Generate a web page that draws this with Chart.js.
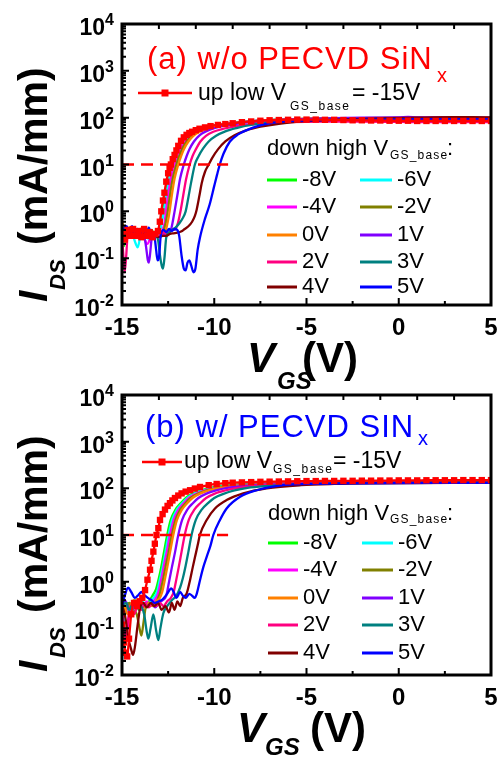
<!DOCTYPE html>
<html>
<head>
<meta charset="utf-8">
<script src="https://cdn.jsdelivr.net/npm/chart.js@4/dist/chart.umd.min.js"></script>
<style>
body{margin:0;background:#fff;}
#wrap{position:relative;width:498px;height:758px;overflow:hidden;background:#fff;}
#ca{position:absolute;left:0;top:0;}
#cb{position:absolute;left:0;top:380px;}
</style>
</head>
<body>
<div id="wrap">
<canvas id="ca" width="498" height="400"></canvas>
<canvas id="cb" width="498" height="378"></canvas>
</div>
<script>
// legend labels / colours of the "down high" sweeps
const biasLabels = ['-8V','-6V','-4V','-2V','0V','1V','2V','3V','4V','5V'];
const biasColors = ['#00ff00','#00ffff','#ff00ff','#808000','#ff8000','#8000ff','#ff0080','#008080','#800000','#0000ff'];

// axis ticks
const xTicksBottom = [-15,-12.5,-10,-7.5,-5,-2.5,0,2.5,5];
const xTicksTop = [-15,-13,-11,-9,-7,-5,-3,-1,1,3,5];
const yDecades = [-2,-1,0,1,2,3,4];

// dashed reference line at 10 mA/mm
const refLevel = 10;
const refSpan = [-15, -9.25];

// ---- (a) w/o PECVD SiNx : [VGS, IDS] ----
const a_up = [[-15,0.35],[-14.85,0.25],[-14.7,0.4],[-14.55,0.3],[-14.4,0.42],[-14.25,0.3],[-14.1,0.38],[-13.95,0.28],[-13.8,0.42],[-13.65,0.3],[-13.5,0.36],[-13.35,0.28],[-13.2,0.33],[-13.05,0.38],[-12.95,0.6],[-12.87,1.0],[-12.78,1.7],[-12.7,2.5],[-12.6,4.3],[-12.5,6.5],[-12.42,8.5],[-12.35,10],[-12.25,13],[-12.15,16],[-12.05,20],[-11.95,25],[-11.8,32],[-11.65,38],[-11.5,43],[-11.35,47],[-11.2,50],[-11.0,54],[-10.8,58],[-10.5,62],[-10.2,66],[-9.8,70],[-9.4,73],[-9.0,76],[-8.5,80],[-8.0,83],[-7.5,86],[-7.0,88],[-6.5,89],[-6.0,90],[-5.5,91],[-5.0,91],[-4.5,91],[-4.0,90],[-3.5,90],[-3.0,89],[-2.5,88],[-2.0,88],[-1.5,87],[-1.0,87],[-0.5,86],[0,86],[0.5,86],[1,85],[1.5,85],[2,85],[2.5,85],[3,85],[3.5,85],[4,85],[4.5,85],[5,85]];
const a_m8 = [[-15,0.25],[-14.9,0.18],[-14.75,0.35],[-14.6,0.45],[-14.45,0.3],[-14.3,0.4],[-14.15,0.3],[-14.0,0.42],[-13.85,0.3],[-13.7,0.4],[-13.55,0.32],[-13.4,0.4],[-13.25,0.33],[-13.1,0.38],[-12.95,0.42],[-12.85,0.65],[-12.78,1.0],[-12.65,2.3],[-12.5,5],[-12.3,10],[-12.15,15],[-12.0,21],[-11.8,30],[-11.5,42],[-11.2,50],[-10.8,58],[-10.2,66],[-9.5,73],[-8.5,80],[-7.5,86],[-6,92],[-4,96],[-2,98],[0,98],[2,97],[4,97],[5,97]];
const a_m6 = [[-15,0.3],[-14.85,0.42],[-14.7,0.3],[-14.55,0.45],[-14.4,0.3],[-14.25,0.2],[-14.15,0.17],[-14.0,0.3],[-13.85,0.4],[-13.7,0.35],[-13.55,0.25],[-13.4,0.35],[-13.25,0.3],[-13.1,0.36],[-12.95,0.38],[-12.85,0.55],[-12.73,1.0],[-12.6,2.3],[-12.45,5],[-12.25,10],[-12.1,15],[-11.95,21],[-11.75,30],[-11.45,42],[-11.1,51],[-10.7,59],[-10.1,67],[-9.4,74],[-8.4,81],[-7.4,87],[-6,92],[-4,96],[-2,98],[0,99],[2,99],[4,98],[5,98]];
const a_m4 = [[-15,0.35],[-14.85,0.3],[-14.7,0.45],[-14.55,0.35],[-14.4,0.3],[-14.25,0.42],[-14.1,0.3],[-13.95,0.38],[-13.8,0.28],[-13.65,0.2],[-13.55,0.22],[-13.4,0.35],[-13.25,0.3],[-13.1,0.36],[-12.95,0.3],[-12.8,0.4],[-12.68,0.6],[-12.62,1.0],[-12.5,2.2],[-12.35,5],[-12.15,10],[-12.0,15],[-11.85,21],[-11.6,31],[-11.3,42],[-10.95,51],[-10.5,60],[-9.9,68],[-9.2,75],[-8.2,82],[-7.2,88],[-6,92],[-4,96],[-2,98],[0,99],[2,99],[4,98],[5,98]];
const a_m2 = [[-15,0.4],[-14.85,0.35],[-14.7,0.3],[-14.55,0.4],[-14.4,0.35],[-14.25,0.28],[-14.1,0.38],[-13.95,0.3],[-13.8,0.36],[-13.65,0.3],[-13.5,0.38],[-13.35,0.3],[-13.2,0.35],[-13.05,0.3],[-12.9,0.33],[-12.75,0.38],[-12.62,0.6],[-12.52,1.0],[-12.4,2.2],[-12.25,5],[-12.05,10],[-11.9,15],[-11.75,21],[-11.5,31],[-11.2,42],[-10.85,51],[-10.4,60],[-9.8,68],[-9.1,75],[-8.1,82],[-7.1,88],[-6,92],[-4,96],[-2,98],[0,99],[2,100],[4,100],[5,99]];
const a_0 = [[-15,0.6],[-14.9,0.45],[-14.75,0.35],[-14.6,0.45],[-14.45,0.3],[-14.3,0.38],[-14.15,0.3],[-14.0,0.42],[-13.85,0.3],[-13.7,0.4],[-13.55,0.34],[-13.4,0.3],[-13.25,0.36],[-13.1,0.3],[-12.95,0.35],[-12.8,0.3],[-12.65,0.36],[-12.52,0.6],[-12.42,1.0],[-12.3,2.2],[-12.15,5],[-11.95,10],[-11.8,15],[-11.65,21],[-11.4,31],[-11.1,42],[-10.75,51],[-10.3,60],[-9.7,68],[-9,75],[-8,82],[-7,88],[-6,92],[-4,96],[-2,98],[0,99],[2,100],[4,100],[5,100]];
const a_1 = [[-15,0.4],[-14.85,0.3],[-14.7,0.45],[-14.55,0.35],[-14.4,0.3],[-14.25,0.4],[-14.1,0.3],[-13.95,0.38],[-13.8,0.3],[-13.7,0.18],[-13.6,0.09],[-13.55,0.08],[-13.48,0.12],[-13.4,0.25],[-13.3,0.35],[-13.15,0.3],[-13.0,0.36],[-12.85,0.3],[-12.7,0.34],[-12.5,0.33],[-12.35,0.4],[-12.25,0.6],[-12.15,1.0],[-12.0,2.2],[-11.85,5],[-11.65,10],[-11.5,15],[-11.35,21],[-11.1,31],[-10.8,42],[-10.45,51],[-10.0,60],[-9.4,68],[-8.7,75],[-7.7,82],[-6.7,88],[-5.5,93],[-4,97],[-2,100],[0,101],[0.5,104],[1,101],[2,101],[4,100],[5,100]];
const a_2 = [[-15,0.3],[-14.93,0.12],[-14.86,0.05],[-14.78,0.1],[-14.7,0.3],[-14.55,0.45],[-14.4,0.32],[-14.25,0.4],[-14.1,0.3],[-13.95,0.38],[-13.8,0.3],[-13.65,0.4],[-13.5,0.3],[-13.35,0.35],[-13.2,0.3],[-13.05,0.37],[-12.9,0.3],[-12.75,0.36],[-12.6,0.33],[-12.45,0.36],[-12.3,0.4],[-12.1,0.42],[-11.95,0.6],[-11.83,1.0],[-11.68,2.2],[-11.53,4.8],[-11.33,10],[-11.18,15],[-11.0,21],[-10.75,31],[-10.45,41],[-10.05,50],[-9.5,58],[-8.8,66],[-8,72],[-7,77],[-6,80],[-4,82],[-2,82],[0,81],[2,80],[4,80],[5,80]];
const a_3 = [[-15,0.35],[-14.85,0.4],[-14.7,0.3],[-14.55,0.4],[-14.4,0.32],[-14.25,0.38],[-14.1,0.3],[-13.95,0.36],[-13.8,0.3],[-13.65,0.35],[-13.5,0.3],[-13.35,0.33],[-13.2,0.3],[-13.05,0.25],[-12.95,0.12],[-12.85,0.07],[-12.78,0.06],[-12.7,0.1],[-12.6,0.28],[-12.45,0.35],[-12.3,0.4],[-12.1,0.45],[-11.9,0.55],[-11.72,0.7],[-11.55,1.0],[-11.4,2.0],[-11.25,4.2],[-11.05,10],[-10.85,15],[-10.6,22],[-10.3,31],[-9.9,41],[-9.4,51],[-8.8,60],[-8,70],[-7,78],[-6,84],[-4,90],[-2,93],[0,94],[2,94],[4,93],[5,93]];
const a_4 = [[-15,0.4],[-14.85,0.3],[-14.7,0.36],[-14.55,0.42],[-14.4,0.3],[-14.25,0.36],[-14.1,0.3],[-13.95,0.38],[-13.8,0.3],[-13.65,0.4],[-13.5,0.3],[-13.35,0.26],[-13.2,0.3],[-13.0,0.28],[-12.8,0.3],[-12.6,0.3],[-12.4,0.33],[-12.2,0.34],[-12.0,0.35],[-11.8,0.37],[-11.6,0.42],[-11.4,0.48],[-11.2,0.6],[-11.05,0.8],[-10.95,1.1],[-10.8,2.2],[-10.68,4],[-10.5,7],[-10.3,10],[-10.1,14],[-9.8,21],[-9.4,31],[-8.9,42],[-8.3,53],[-7.5,64],[-6.5,74],[-5,84],[-3,92],[-1,97],[1,100],[3,102],[4,102],[5,101]];
const a_5 = [[-15,0.28],[-14.9,0.42],[-14.75,0.48],[-14.6,0.32],[-14.45,0.48],[-14.3,0.28],[-14.15,0.42],[-14.0,0.3],[-13.85,0.45],[-13.7,0.3],[-13.55,0.45],[-13.4,0.32],[-13.25,0.3],[-13.15,0.15],[-13.07,0.09],[-13.0,0.1],[-12.9,0.3],[-12.75,0.4],[-12.6,0.36],[-12.45,0.42],[-12.3,0.38],[-12.15,0.42],[-12.0,0.4],[-11.9,0.3],[-11.78,0.12],[-11.65,0.06],[-11.55,0.055],[-11.45,0.08],[-11.35,0.09],[-11.25,0.07],[-11.12,0.05],[-11.02,0.06],[-10.9,0.15],[-10.77,0.28],[-10.5,0.7],[-10.25,1.4],[-10.0,3.5],[-9.85,6],[-9.7,10],[-9.5,17],[-9.15,31],[-8.7,44],[-8.2,55],[-7.6,67],[-7.0,76],[-6,84],[-5,87],[-3,90],[-1,92],[1,93],[3,93],[5,93]];

// ---- (b) w/ PECVD SINx ----
const b_up = [[-15,0.12],[-14.9,0.05],[-14.8,0.03],[-14.72,0.025],[-14.62,0.06],[-14.5,0.2],[-14.35,0.35],[-14.2,0.3],[-14.05,0.38],[-13.9,0.45],[-13.75,0.66],[-13.62,1.1],[-13.48,1.8],[-13.4,2.8],[-13.3,4.4],[-13.22,6.5],[-13.13,10],[-13.03,14],[-12.94,21],[-12.8,28],[-12.67,35],[-12.53,42],[-12.4,48],[-12.27,55],[-12.13,62],[-11.95,70],[-11.77,78],[-11.55,85],[-11.31,91],[-11.05,99],[-10.77,107],[-10.3,117],[-9.87,124],[-9.4,129],[-9,132],[-8.5,134],[-8,136],[-7.5,138],[-7,139],[-6.5,140],[-6,141],[-5.5,142],[-5,143],[-4.5,143],[-4,144],[-3.5,144],[-3,145],[-2.5,145],[-2,146],[-1.5,146],[-1,147],[-0.5,147],[0,148],[0.5,148],[1,148],[1.5,149],[2,149],[2.5,149],[3,149],[3.5,150],[4,150],[4.5,150],[5,150]];
const b_m8 = [[-15,0.3],[-14.85,0.2],[-14.7,0.35],[-14.5,0.3],[-14.3,0.4],[-14.1,0.25],[-13.9,0.35],[-13.7,0.3],[-13.5,0.4],[-13.35,0.5],[-13.15,0.7],[-13.0,1.2],[-12.88,2],[-12.72,4.4],[-12.55,10],[-12.36,21],[-12.1,35],[-11.82,48],[-11.55,62],[-11.2,76],[-10.7,90],[-10.2,102],[-9.3,115],[-8.3,123],[-7,128],[-5,132],[-3,134],[-1,135],[1,135],[3,135],[5,135]];
const b_m6 = [[-15,0.022],[-14.95,0.06],[-14.85,0.2],[-14.7,0.3],[-14.5,0.2],[-14.3,0.35],[-14.1,0.3],[-13.9,0.38],[-13.7,0.28],[-13.5,0.35],[-13.3,0.45],[-13.1,0.6],[-12.95,1.1],[-12.8,2],[-12.64,4.4],[-12.47,10],[-12.28,21],[-12.02,35],[-11.74,48],[-11.47,62],[-11.1,76],[-10.6,90],[-10.0,102],[-9.1,114],[-8,122],[-6.5,128],[-5,131],[-3,133],[-1,134],[1,135],[3,135],[5,135]];
const b_m4 = [[-15,0.2],[-14.9,0.12],[-14.75,0.08],[-14.6,0.2],[-14.45,0.35],[-14.25,0.25],[-14.05,0.35],[-13.85,0.3],[-13.65,0.38],[-13.45,0.3],[-13.25,0.4],[-13.05,0.55],[-12.9,1.0],[-12.75,2],[-12.57,4.4],[-12.4,10],[-12.2,21],[-11.94,35],[-11.66,48],[-11.38,62],[-11.0,76],[-10.5,90],[-9.9,102],[-9.0,113],[-7.8,121],[-6.3,127],[-4.5,131],[-2,134],[0,135],[2,136],[5,136]];
const b_m2 = [[-15,0.35],[-14.8,0.25],[-14.6,0.35],[-14.4,0.25],[-14.2,0.2],[-14.05,0.1],[-13.95,0.07],[-13.85,0.12],[-13.7,0.3],[-13.5,0.35],[-13.3,0.3],[-13.1,0.4],[-12.95,0.55],[-12.8,1.0],[-12.65,2],[-12.47,4.4],[-12.3,10],[-12.1,21],[-11.84,35],[-11.56,48],[-11.28,62],[-10.9,76],[-10.4,90],[-9.8,102],[-8.9,113],[-7.7,121],[-6.2,127],[-4.4,131],[-2,134],[0,136],[2,137],[5,137]];
const b_0 = [[-15,0.4],[-14.85,0.3],[-14.7,0.2],[-14.55,0.3],[-14.35,0.4],[-14.15,0.3],[-13.95,0.35],[-13.75,0.28],[-13.55,0.35],[-13.35,0.3],[-13.15,0.38],[-12.95,0.45],[-12.82,0.6],[-12.7,1.0],[-12.55,2],[-12.39,4.4],[-12.22,10],[-12.02,21],[-11.75,35],[-11.47,48],[-11.18,62],[-10.8,76],[-10.3,90],[-9.7,102],[-8.8,113],[-7.6,121],[-6.1,127],[-4.3,131],[-2,134],[0,136],[2,137],[5,137]];
const b_1 = [[-15,0.3],[-14.85,0.4],[-14.7,0.3],[-14.55,0.18],[-14.4,0.3],[-14.2,0.38],[-14.0,0.28],[-13.8,0.35],[-13.6,0.3],[-13.4,0.35],[-13.2,0.28],[-13.0,0.35],[-12.8,0.4],[-12.6,0.5],[-12.45,1.0],[-12.3,2],[-12.12,4.4],[-11.95,10],[-11.74,21],[-11.46,35],[-11.16,48],[-10.86,62],[-10.45,76],[-9.9,90],[-9.3,102],[-8.4,113],[-7.2,121],[-5.8,127],[-4,131],[-2,133],[0,135],[2,136],[5,136]];
const b_2 = [[-15,0.25],[-14.9,0.1],[-14.8,0.06],[-14.7,0.12],[-14.55,0.3],[-14.35,0.2],[-14.15,0.3],[-13.95,0.25],[-13.75,0.35],[-13.55,0.28],[-13.35,0.35],[-13.15,0.3],[-12.95,0.35],[-12.75,0.3],[-12.55,0.38],[-12.35,0.45],[-12.2,0.6],[-12.08,1.0],[-11.93,2],[-11.77,4.4],[-11.6,10],[-11.38,21],[-11.08,35],[-10.76,48],[-10.44,62],[-10.0,76],[-9.4,90],[-8.8,101],[-7.9,112],[-6.7,120],[-5.3,126],[-3.5,130],[-1,133],[1,134],[3,135],[5,135]];
const b_3 = [[-15,0.3],[-14.8,0.35],[-14.6,0.25],[-14.4,0.35],[-14.2,0.28],[-14.0,0.3],[-13.8,0.2],[-13.65,0.08],[-13.57,0.06],[-13.45,0.1],[-13.3,0.2],[-13.15,0.09],[-13.03,0.056],[-12.92,0.1],[-12.76,0.21],[-12.55,0.3],[-12.3,0.4],[-12.05,0.5],[-11.85,0.75],[-11.7,1.2],[-11.55,2.2],[-11.4,4.4],[-11.23,10],[-11.0,21],[-10.68,35],[-10.34,48],[-10.0,62],[-9.5,76],[-8.9,90],[-8.2,102],[-7.2,112],[-6,120],[-4.5,126],[-2.5,130],[0,133],[2,134],[5,134]];
const b_4 = [[-15,0.3],[-14.85,0.2],[-14.65,0.06],[-14.5,0.035],[-14.4,0.027],[-14.3,0.04],[-14.15,0.12],[-14.0,0.3],[-13.85,0.35],[-13.65,0.28],[-13.45,0.35],[-13.25,0.3],[-13.05,0.35],[-12.85,0.25],[-12.65,0.3],[-12.45,0.22],[-12.3,0.35],[-12.15,0.25],[-12.0,0.38],[-11.85,0.3],[-11.7,0.45],[-11.5,0.55],[-11.31,1.09],[-11.17,2],[-11.04,3.4],[-10.9,6],[-10.78,10],[-10.41,21],[-9.96,37],[-9.33,56],[-8.43,78],[-7.16,100],[-5.3,117],[-3.5,124],[-1,128],[1,130],[3,131],[5,131]];
const b_5 = [[-15,0.29],[-14.85,0.5],[-14.67,0.74],[-14.5,0.6],[-14.3,0.45],[-14.15,0.5],[-13.95,0.6],[-13.75,0.5],[-13.6,0.45],[-13.4,0.4],[-13.23,0.35],[-13.0,0.38],[-12.8,0.42],[-12.55,0.55],[-12.33,0.72],[-12.2,0.6],[-12.05,0.45],[-11.85,0.6],[-11.7,0.5],[-11.55,0.45],[-11.35,0.55],[-11.2,0.5],[-11.06,0.45],[-10.95,0.55],[-10.77,1.09],[-10.6,2],[-10.41,3.4],[-10.2,6],[-10.05,10],[-9.69,21],[-9.33,37],[-8.6,66],[-7.7,91],[-6.27,117],[-4.5,125],[-2,128],[0,130],[2,131],[5,131]];

const aDown = [a_m8, a_m6, a_m4, a_m2, a_0, a_1, a_2, a_3, a_4, a_5];
const bDown = [b_m8, b_m6, b_m4, b_m2, b_0, b_1, b_2, b_3, b_4, b_5];

const FONT = "'Liberation Sans', Arial, sans-serif";
Chart.defaults.font.family = FONT;
Chart.defaults.color = '#000';

function buildSets(up, down) {
	const sets = [];
	// first dataset is drawn last (on top)
	sets.push({ data: [[refSpan[0], refLevel], [refSpan[1], refLevel]], borderColor: '#ff0000', borderWidth: 2.5, borderDash: [12, 7], pointRadius: 0 });
	sets.push({ data: up, borderColor: '#ff0000', borderWidth: 2.3, pointStyle: 'rect', pointRadius: 4.5, pointBackgroundColor: '#ff0000', pointBorderWidth: 0, cubicInterpolationMode: 'monotone' });
	for (let i = down.length - 1; i >= 0; i--) {
		sets.push({ data: down[i], borderColor: biasColors[i], borderWidth: 2.3, pointRadius: 0, cubicInterpolationMode: 'monotone' });
	}
	return sets;
}

// text with sub/superscripts: parts = [text, font, x, y, letterSpacing]
function drawParts(ctx, parts) {
	for (const p of parts) {
		ctx.font = p[1];
		ctx.letterSpacing = p[4] || '0px';
		ctx.fillText(p[0], p[2], p[3]);
	}
	ctx.letterSpacing = '0px';
}

function deco(c) {
	return {
		id: 'deco',
		afterDraw(chart) {
			const ctx = chart.ctx, a = chart.chartArea;
			const xs = chart.scales.x, ys = chart.scales.y;
			ctx.save();
			ctx.fillStyle = '#000';
			ctx.strokeStyle = '#000';

			// frame
			ctx.lineWidth = 3;
			ctx.strokeRect(a.left, a.top, a.right - a.left, a.bottom - a.top);

			// inward ticks
			ctx.lineWidth = 2;
			ctx.beginPath();
			for (const v of xTicksBottom) {
				const px = xs.getPixelForValue(v);
				const len = v % 5 === 0 ? 7 : 4;
				ctx.moveTo(px, a.bottom); ctx.lineTo(px, a.bottom - len);
			}
			for (const v of xTicksTop) {
				const px = xs.getPixelForValue(v);
				ctx.moveTo(px, a.top); ctx.lineTo(px, a.top + 5);
			}
			for (const d of yDecades) {
				for (let k = 1; k <= 9; k++) {
					if (d === 4 && k > 1) break;
					const py = ys.getPixelForValue(k * Math.pow(10, d));
					const len = k === 1 ? 7 : 4;
					ctx.moveTo(a.left, py); ctx.lineTo(a.left + len, py);
				}
			}
			ctx.stroke();

			// y tick labels 10^n
			ctx.textAlign = 'left';
			ctx.textBaseline = 'alphabetic';
			for (const d of yDecades) {
				const py = ys.getPixelForValue(Math.pow(10, d));
				ctx.font = 'bold 16px ' + FONT;
				const ew = ctx.measureText(String(d)).width;
				const right = 114;
				ctx.fillText(String(d), right - ew, py + 1);
				ctx.font = 'bold 23px ' + FONT;
				const bw = ctx.measureText('10').width;
				ctx.fillText('10', right - ew - bw, py + 11);
			}

			// y title (rotated)
			ctx.save();
			ctx.translate(c.yt.x, c.yt.y);
			ctx.rotate(-Math.PI / 2);
			drawParts(ctx, [
				['I', 'italic bold 41px ' + FONT, 0, 0],
				['DS', 'italic bold 22px ' + FONT, c.yt.sub, 18],
				['(mA/mm)', 'bold 41px ' + FONT, c.yt.main, 0]
			]);
			ctx.restore();

			// x title
			drawParts(ctx, [
				['V', 'italic bold 42px ' + FONT, c.xt.vx, c.xt.y],
				['GS', 'italic bold 24px ' + FONT, c.xt.gsx, c.xt.gsy],
				['(V)', 'bold 42px ' + FONT, c.xt.px, c.xt.y]
			]);

			// panel title
			ctx.fillStyle = c.title.color;
			drawParts(ctx, [
				[c.title.text, '31px ' + FONT, c.title.x, c.title.y, '1px'],
				['x', '20px ' + FONT, c.title.subX, c.title.subY]
			]);

			// up-sweep legend
			const u = c.up;
			ctx.strokeStyle = '#ff0000';
			ctx.lineWidth = 2.5;
			ctx.beginPath(); ctx.moveTo(u.x0, u.y); ctx.lineTo(u.x1, u.y); ctx.stroke();
			ctx.fillStyle = '#ff0000';
			ctx.fillRect((u.x0 + u.x1) / 2 - 3.5, u.y - 3.5, 7, 7);
			ctx.fillStyle = '#000';
			drawParts(ctx, [
				['up low V', '23px ' + FONT, u.tx, u.ty],
				['GS_base', '12px ' + FONT, u.subX, u.subY, '1.5px'],
				['= -15V', '23px ' + FONT, u.eqX, u.ty]
			]);

			// down-sweep legend
			const dn = c.down;
			drawParts(ctx, [
				['down high V', '22px ' + FONT, dn.x, dn.y],
				['GS_base', '12px ' + FONT, dn.subX, dn.subY, '1.2px'],
				[':', '22px ' + FONT, dn.colonX, dn.y]
			]);
			ctx.lineWidth = 3;
			ctx.font = '22px ' + FONT;
			biasLabels.forEach((lab, i) => {
				const ry = dn.rows[Math.floor(i / 2)];
				const col = i % 2 === 0 ? dn.c1 : dn.c2;
				ctx.strokeStyle = biasColors[i];
				ctx.beginPath(); ctx.moveTo(col[0], ry); ctx.lineTo(col[1], ry); ctx.stroke();
				ctx.fillStyle = '#000';
				ctx.fillText(lab, col[2], ry + 6);
			});
			ctx.restore();
		}
	};
}

function makeChart(id, up, down, padTop, xHeight, c) {
	return new Chart(document.getElementById(id), {
		type: 'line',
		data: { datasets: buildSets(up, down) },
		options: {
			responsive: false,
			animation: false,
			events: [],
			layout: { padding: { top: padTop, right: 7, left: 0, bottom: 0 } },
			plugins: { legend: { display: false }, tooltip: { enabled: false } },
			scales: {
				x: {
					type: 'linear', min: -15, max: 5,
					grid: { display: false, drawTicks: false },
					border: { display: false },
					ticks: {
						stepSize: 2.5, autoSkip: false, maxRotation: 0, padding: 9, color: '#000',
						font: { size: 24, weight: 'bold' },
						callback: v => (v % 5 === 0 ? String(v) : '')
					},
					// keep the plot box fixed; edge labels may overhang
					afterFit: s => { s.height = xHeight; s.paddingLeft = 0; s.paddingRight = 0; }
				},
				y: {
					type: 'logarithmic', min: 0.01, max: 10000,
					grid: { display: false, drawTicks: false },
					border: { display: false },
					ticks: { display: false },
					afterFit: s => { s.width = 122; s.paddingTop = 0; s.paddingBottom = 0; }
				}
			}
		},
		plugins: [deco(c)]
	});
}

makeChart('ca', a_up, aDown, 24, 95, {
	title: { text: '(a) w/o PECVD SiN', x: 147, y: 69, color: '#ff0000', subX: 437, subY: 82 },
	up: { x0: 138, x1: 192, y: 93, tx: 198, ty: 100, subX: 290, subY: 110, eqX: 352 },
	down: { x: 267, y: 155, subX: 390, subY: 159, colonX: 447, rows: [180, 207, 235, 262, 287], c1: [267, 297, 302], c2: [360, 392, 397] },
	yt: { x: 47, y: 302, sub: 12, main: 57 },
	xt: { vx: 247, y: 372, gsx: 277, gsy: 389, px: 302 }
});

makeChart('cb', b_up, bDown, 15, 83, {
	title: { text: '(b) w/ PECVD SIN', x: 145, y: 57, color: '#0000ff', subX: 418, subY: 65 },
	up: { x0: 142, x1: 182, y: 82, tx: 184, ty: 88, subX: 273, subY: 93, eqX: 333 },
	down: { x: 268, y: 140, subX: 390, subY: 143, colonX: 447, rows: [163, 190, 218, 245, 273], c1: [268, 298, 303], c2: [362, 393, 398] },
	yt: { x: 47, y: 292, sub: 14, main: 59 },
	xt: { vx: 237, y: 362, gsx: 265, gsy: 375, px: 310 }
});
</script>
</body>
</html>
